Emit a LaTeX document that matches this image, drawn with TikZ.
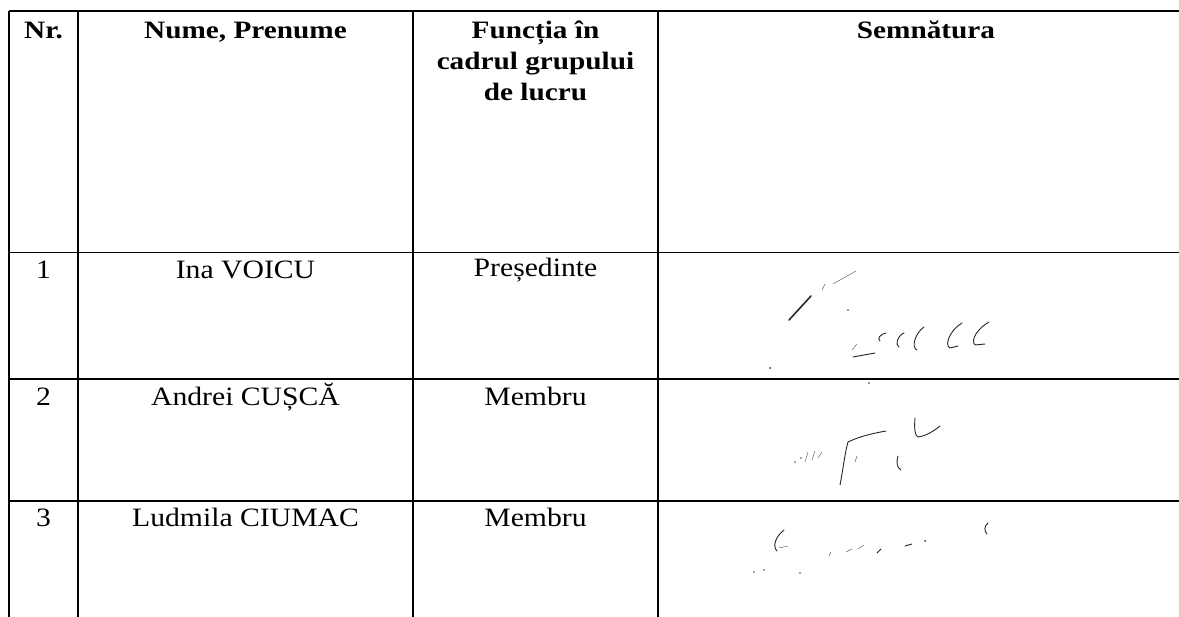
\documentclass[tikz,border=0pt]{standalone}
\usepackage{fontspec}
\setmainfont{Liberation Serif}
\newfontfamily\bodyf{Liberation Serif}[FakeStretch=1.12]
\newfontfamily\headf{Liberation Serif}[FakeStretch=1.17]
\begin{document}
\begin{tikzpicture}[x=1pt,y=-1pt,
  rule/.style={line width=1.2pt,black},
  head/.style={font=\headf\bfseries\fontsize{25}{31}\selectfont, inner sep=0pt, anchor=base, align=center},
  cell/.style={font=\bodyf\fontsize{26.5}{30}\selectfont, inner sep=0pt, anchor=base},
  sig/.style={line width=0.9pt, line cap=round, black!85},
  sigthin/.style={line width=0.5pt, line cap=round, black!60}]
\useasboundingbox (0,0) rectangle (1179,617);
% grid coordinates
\foreach \n/\x in {a/9,b/78,c/413,d/658}{
  \coordinate (\n top) at (\x,11);
  \coordinate (\n bot) at (\x,617);
}
\foreach \n/\y in {h/11,r1/252.5,r2/379,r3/501}{
  \coordinate (\n L) at (9,\y);
  \coordinate (\n R) at (1179,\y);
}
\foreach \n in {a,b,c,d}{ \draw[rule] (\n top) -- (\n bot); }
\foreach \n in {h,r1,r2,r3}{ \draw[rule] (\n L) -- (\n R); }

% header
\node[head] (hnr) at (43.5,39) {Nr.};
\node[head] (hname) at (245.5,39) {Nume, Prenume};
\node[head] (hfunc) at (535.5,101) {Funcția în\\cadrul grupului\\de lucru};
\node[head] (hsig) at (926,39) {Semnătura};

% rows
\node[cell] (n1) at (43.5,279) {1};
\node[cell] (p1) at (245.5,279) {Ina VOICU};
\node[cell] (f1) at (535.5,277) {Președinte};
\node[cell] (n2) at (43.5,406) {2};
\node[cell] (p2) at (245.5,406) {Andrei CUȘCĂ};
\node[cell] (f2) at (535.5,406) {Membru};
\node[cell] (n3) at (43.5,527) {3};
\node[cell] (p3) at (245.5,527) {Ludmila CIUMAC};
\node[cell] (f3) at (535.5,527) {Membru};

% signature 1
\draw[sig, line width=1.6pt] (789,320) -- (811,296);
\draw[sigthin] (822,290) -- (825,284);
\draw[sigthin] (833,284) -- (856,271);
\fill[black!80] (848,310) circle (0.9);
\fill[black!80] (770,368) circle (1);
\fill[black!80] (869,383) circle (0.8);
\draw[sig] (853,357) -- (875,353);
\draw[sigthin] (852,350) -- (857,344);
\draw[sig] (886,333) .. controls (880,334) and (877,339) .. (880,341);
\draw[sig] (904,333) .. controls (897,336) and (895,345) .. (899,347);
\draw[sig] (924,327) .. controls (915,333) and (911,348) .. (917,350);
\draw[sig] (962,323) .. controls (950,330) and (944,345) .. (950,348) -- (958,346);
\draw[sig] (989,322) .. controls (978,328) and (970,340) .. (975,345) -- (985,344);

% signature 2
\fill[black!70] (795,462) circle (0.8);
\fill[black!70] (801,458) circle (0.8);
\draw[sigthin] (805,462) -- (808,452);
\draw[sigthin] (812,460) -- (815,451);
\draw[sigthin] (818,458) -- (822,452);
\draw[sig] (840,485) .. controls (843,470) and (845,452) .. (848,442) .. controls (860,436) and (875,433) .. (886,431);
\draw[sigthin] (855,462) -- (857,456);
\draw[sig] (898,456) .. controls (896,462) and (897,468) .. (901,470);
\draw[sig] (915,418) .. controls (914,428) and (915,436) .. (918,437) .. controls (926,436) and (934,431) .. (940,426);

% signature 3
\draw[sig] (777,551) .. controls (772,546) and (776,536) .. (784,530);
\draw[sigthin] (779,548) -- (788,546);
\fill[black!70] (754,572) circle (0.8);
\fill[black!70] (764,570) circle (0.8);
\fill[black!70] (800,573) circle (0.8);
\draw[sigthin] (829,556) -- (831,552);
\draw[sigthin] (846,552) -- (852,549);
\draw[sigthin] (858,549) -- (864,545);
\draw[sig] (877,553) -- (881,549);
\draw[sig] (905,546) -- (912,544);
\fill[black!80] (925,541) circle (1);
\draw[sig] (988,523) .. controls (984,526) and (984,531) .. (987,534);
\end{tikzpicture}
\end{document}
